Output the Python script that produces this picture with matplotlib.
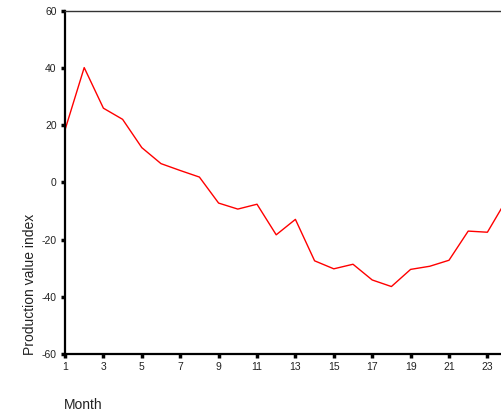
import matplotlib
matplotlib.use("Agg")
import matplotlib.pyplot as plt

months = list(range(1, 25))
values = [18.4, 40.2, 26.0, 22.1, 12.2, 6.6, 4.2, 1.9, -7.2, -9.3, -7.6, -18.3,
          -12.9, -27.4, -30.2, -28.6, -34.1, -36.4, -30.4, -29.3, -27.2, -17.0, -17.4, -6.0]
xticks = [1, 3, 5, 7, 9, 11, 13, 15, 17, 19, 21, 23]
yticks = [-60, -40, -20, 0, 20, 40, 60]

plt.rcParams['font.family'] = ['Liberation Sans', 'DejaVu Sans']

W, H = 502, 412
fig = plt.figure(figsize=(W / 100, H / 100), dpi=100)
x0, x1 = 65, 65 + 25 * 19.2
y0, y1 = 354, 11
ax = fig.add_axes([x0 / W, 1 - y0 / H, (x1 - x0) / W, (y0 - y1) / H])
ax.plot(months, values, color='#ff0000', lw=1.0)
ax.set_xlim(1, 26)
ax.set_ylim(-60, 60)
ax.set_xticks(xticks)
ax.set_yticks(yticks)
ax.set_yticklabels([str(v).replace('-', '-') for v in yticks])
ax.tick_params(direction='out', length=3, width=2.5, labelsize=7.5,
               labelcolor='#222222', pad=3)
ax.spines['right'].set_visible(False)
ax.spines['left'].set_linewidth(1.6)
ax.spines['bottom'].set_linewidth(1.6)
ax.spines['top'].set_linewidth(1.0)
ax.spines['top'].set_color('#333333')

fig.text(64 / W, 1 - 409 / H, 'Month', fontsize=10, ha='left', va='baseline', color='#222222')
fig.text(30 / W, 1 - 355 / H, 'Production value index', fontsize=10, rotation=90,
         ha='center', va='bottom', color='#222222')

fig.savefig('out.png', dpi=100)
